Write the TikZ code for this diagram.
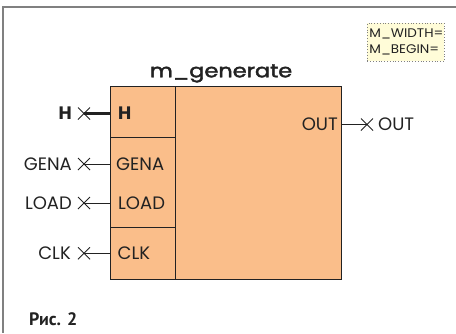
\documentclass[tikz,border=0pt]{standalone}
\usepackage{fontspec}
\setmainfont{Poppins}
\newfontfamily\cyrfont{PT Sans}
\newfontfamily\titlefont{Poppins}[FakeBold=2]
\usetikzlibrary{positioning, calc}
\definecolor{blkfill}{RGB}{250,190,138}
\definecolor{notefill}{RGB}{255,252,216}
\definecolor{framegray}{RGB}{128,128,128}
\definecolor{ink}{RGB}{34,34,34}

\begin{document}
\begin{tikzpicture}[
  x=1pt, y=1pt,
  lbl/.style={font=\fontsize{18}{20}\selectfont, text=ink, inner sep=0pt},
  part/.style={draw=ink, line width=0.9pt, fill=blkfill, inner sep=0pt, outer sep=0pt},
  wire/.style={draw=ink, line width=0.8pt},
  bus/.style={draw=ink, line width=3pt},
  xmark/.pic={\draw[wire] (-6,-6) -- (6,6) (-6,6) -- (6,-6);}
]
\useasboundingbox (0,0) rectangle (456,-333);
\draw[framegray, line width=1.5pt] (456,-7) -- (3,-7) -- (3,-333);

% block m_generate
\node[part, minimum width=166, minimum height=192.3, anchor=north west] (body) at (175,-86.7) {};
\node[part, minimum width=65, minimum height=51, anchor=north east] (cH) at (body.north west) {};
\node[part, minimum width=65, minimum height=90, below=0pt of cH] (cGL) {};
\node[part, minimum width=65, minimum height=51.3, below=0pt of cGL] (cC) {};
\node[font=\titlefont\fontsize{19}{20}\selectfont, text=ink, anchor=base] (title) at (221,-77.3)
  {\scalebox{1.18}[1]{m\_generate}};

% pins
\coordinate (pH) at (84,-113.5);
\coordinate (pGena) at (84,-164);
\coordinate (pLoad) at (84,-203);
\coordinate (pClk) at (84,-253.3);
\coordinate (pOut) at (367,-124.5);

\draw[bus] (pH) -- (cH.west |- pH);
\draw[wire] (pGena) -- (cGL.west |- pGena);
\draw[wire] (pLoad) -- (cGL.west |- pLoad);
\draw[wire] (pClk) -- (cC.west |- pClk);
\draw[wire] (body.east |- pOut) -- (pOut);
\foreach \p in {pH, pGena, pLoad, pClk, pOut}
  \pic at (\p) {xmark};

\node[lbl, font=\fontsize{18}{20}\selectfont\bfseries, left=12pt of pH] (oH) {H};
\node[lbl, left=12pt of pGena] (oGena) {GENA};
\node[lbl, left=12pt of pLoad] (oLoad) {LOAD};
\node[lbl, left=13pt of pClk] (oClk) {CLK};
\node[lbl, right=11pt of pOut] (oOut) {OUT};

\node[lbl, font=\fontsize{18}{20}\selectfont\bfseries, anchor=west, xshift=8pt] (iH) at (cH.west |- pH) {H};
\node[lbl, anchor=west, xshift=6pt] (iGena) at (cGL.west |- pGena) {GENA};
\node[lbl, anchor=west, xshift=8pt] (iLoad) at (cGL.west |- pLoad) {LOAD};
\node[lbl, anchor=west, xshift=7.5pt] (iClk) at (cC.west |- pClk) {CLK};
\node[lbl, anchor=east, xshift=-3pt] (iOut) at (body.east |- pOut) {OUT};

% parameters
\node[draw=framegray, dotted, line width=0.8pt, fill=notefill, text=ink, align=left,
  font=\fontsize{12.5}{16}\selectfont, inner sep=2pt, text width=73,
  minimum height=38.3, anchor=north west] (note) at (367,-22.7)
  {\scalebox{1.08}[1]{M\_WIDTH=}\\\scalebox{1.08}[1]{M\_BEGIN=}};

\node[font=\cyrfont\bfseries\fontsize{18}{20}\selectfont, text=ink, inner sep=0pt,
  anchor=base west] (cap) at (29,-325) {Рис. 2};
\end{tikzpicture}
\end{document}
